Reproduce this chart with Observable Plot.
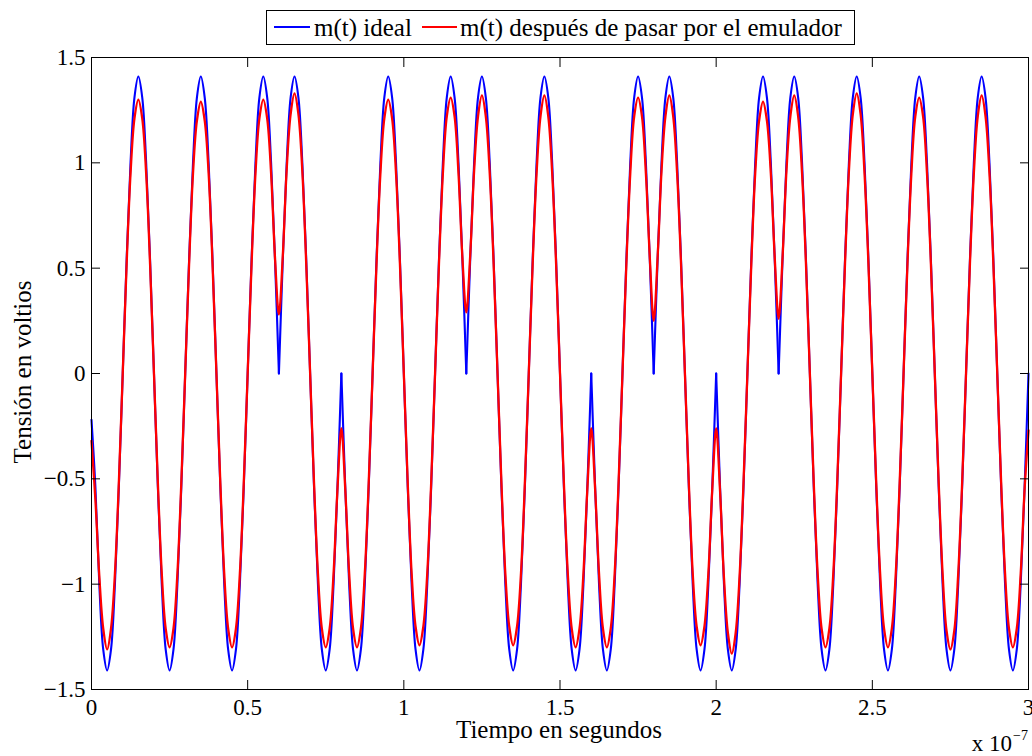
<!DOCTYPE html>
<html>
<head>
<meta charset="utf-8">
<script src="https://cdn.jsdelivr.net/npm/d3@7"></script>
<script src="https://cdn.jsdelivr.net/npm/@observablehq/plot@0.6"></script>
<style>
  html, body { margin: 0; padding: 0; background: #ffffff; }
  #chart { width: 1032px; height: 756px; }
</style>
</head>
<body>
<div id="chart"></div>
<script>
// ---- data ----
const sampleStep = 1.25e-9; // seconds between consecutive samples
const seriesNames = ["m(t) ideal", "m(t) después de pasar por el emulador"];
const seriesColors = ["#0000ff", "#ff0000"];
const xTicks = [0, 0.5e-7, 1e-7, 1.5e-7, 2e-7, 2.5e-7, 3e-7];
const xTickLabels = ["0", "0.5", "1", "1.5", "2", "2.5", "3"];
const yTicks = [-1.5, -1, -0.5, 0, 0.5, 1, 1.5];
const yTickLabels = ["\u22121.5", "\u22121", "\u22120.5", "0", "0.5", "1", "1.5"];
const xLabel = "Tiempo en segundos";
const yLabel = "Tensión en voltios";
const xMultiplier = "x 10";
const xExponent = "\u22127";

// m(t) ideal (V), one row per 20 ns symbol
const ideal = [
  -0.22, -0.54, -1.00, -1.31, -1.41, -1.31, -1.00, -0.54, 0, 0.54, 1.00, 1.31, 1.41, 1.31, 1.00, 0.54,
  0, -0.54, -1.00, -1.31, -1.41, -1.31, -1.00, -0.54, 0, 0.54, 1.00, 1.31, 1.41, 1.31, 1.00, 0.54,
  0, -0.54, -1.00, -1.31, -1.41, -1.31, -1.00, -0.54, 0, 0.54, 1.00, 1.31, 1.41, 1.31, 1.00, 0.54,
  0, 0.54, 1.00, 1.31, 1.41, 1.31, 1.00, 0.54, 0, -0.54, -1.00, -1.31, -1.41, -1.31, -1.00, -0.54,
  0, -0.54, -1.00, -1.31, -1.41, -1.31, -1.00, -0.54, 0, 0.54, 1.00, 1.31, 1.41, 1.31, 1.00, 0.54,
  0, -0.54, -1.00, -1.31, -1.41, -1.31, -1.00, -0.54, 0, 0.54, 1.00, 1.31, 1.41, 1.31, 1.00, 0.54,
  0, 0.54, 1.00, 1.31, 1.41, 1.31, 1.00, 0.54, 0, -0.54, -1.00, -1.31, -1.41, -1.31, -1.00, -0.54,
  0, 0.54, 1.00, 1.31, 1.41, 1.31, 1.00, 0.54, 0, -0.54, -1.00, -1.31, -1.41, -1.31, -1.00, -0.54,
  0, -0.54, -1.00, -1.31, -1.41, -1.31, -1.00, -0.54, 0, 0.54, 1.00, 1.31, 1.41, 1.31, 1.00, 0.54,
  0, 0.54, 1.00, 1.31, 1.41, 1.31, 1.00, 0.54, 0, -0.54, -1.00, -1.31, -1.41, -1.31, -1.00, -0.54,
  0, -0.54, -1.00, -1.31, -1.41, -1.31, -1.00, -0.54, 0, 0.54, 1.00, 1.31, 1.41, 1.31, 1.00, 0.54,
  0, 0.54, 1.00, 1.31, 1.41, 1.31, 1.00, 0.54, 0, -0.54, -1.00, -1.31, -1.41, -1.31, -1.00, -0.54,
  0, 0.54, 1.00, 1.31, 1.41, 1.31, 1.00, 0.54, 0, -0.54, -1.00, -1.31, -1.41, -1.31, -1.00, -0.54,
  0, 0.54, 1.00, 1.31, 1.41, 1.31, 1.00, 0.54, 0, -0.54, -1.00, -1.31, -1.41, -1.31, -1.00, -0.54,
  0, 0.54, 1.00, 1.31, 1.41, 1.31, 1.00, 0.54, 0, -0.54, -1.00, -1.31, -1.41, -1.31, -1.00, -0.54,
  0
];

// m(t) after the emulator (V)
const emulated = [
  -0.32, -0.60, -0.96, -1.21, -1.31, -1.21, -0.95, -0.52, 0, 0.52, 0.95, 1.21, 1.30, 1.21, 0.95, 0.52,
  0, -0.52, -0.95, -1.21, -1.30, -1.21, -0.95, -0.52, 0, 0.52, 0.95, 1.20, 1.29, 1.20, 0.95, 0.52,
  0, -0.52, -0.95, -1.21, -1.30, -1.21, -0.95, -0.52, 0, 0.52, 0.95, 1.21, 1.30, 1.21, 0.95, 0.55,
  0.28, 0.56, 0.97, 1.23, 1.33, 1.23, 0.96, 0.52, 0, -0.52, -0.95, -1.21, -1.30, -1.21, -0.95, -0.55,
  -0.26, -0.55, -0.95, -1.21, -1.30, -1.21, -0.95, -0.52, 0, 0.52, 0.95, 1.21, 1.30, 1.21, 0.95, 0.52,
  0, -0.52, -0.95, -1.20, -1.29, -1.20, -0.95, -0.52, 0, 0.52, 0.95, 1.22, 1.31, 1.22, 0.95, 0.55,
  0.29, 0.56, 0.96, 1.22, 1.32, 1.22, 0.95, 0.52, 0, -0.52, -0.95, -1.20, -1.29, -1.20, -0.95, -0.52,
  0, 0.52, 0.95, 1.22, 1.32, 1.22, 0.95, 0.52, 0, -0.52, -0.95, -1.21, -1.30, -1.21, -0.95, -0.55,
  -0.26, -0.55, -0.95, -1.21, -1.30, -1.21, -0.95, -0.52, 0, 0.52, 0.95, 1.22, 1.31, 1.22, 0.95, 0.55,
  0.25, 0.55, 0.96, 1.22, 1.32, 1.22, 0.95, 0.52, 0, -0.52, -0.95, -1.20, -1.29, -1.20, -0.95, -0.55,
  -0.26, -0.56, -0.97, -1.23, -1.33, -1.23, -0.96, -0.52, 0, 0.52, 0.95, 1.20, 1.29, 1.20, 0.95, 0.55,
  0.26, 0.55, 0.96, 1.22, 1.32, 1.22, 0.95, 0.52, 0, -0.52, -0.95, -1.21, -1.30, -1.21, -0.95, -0.52,
  0, 0.52, 0.96, 1.23, 1.33, 1.23, 0.95, 0.52, 0, -0.52, -0.95, -1.21, -1.30, -1.21, -0.95, -0.52,
  0, 0.52, 0.95, 1.22, 1.31, 1.22, 0.95, 0.52, 0, -0.52, -0.95, -1.22, -1.31, -1.22, -0.95, -0.52,
  0, 0.52, 0.95, 1.22, 1.32, 1.22, 0.95, 0.52, 0, -0.52, -0.95, -1.21, -1.30, -1.21, -0.95, -0.55,
  -0.27
];

// ---- build tables ----
// ideal: split into pieces at phase-flip cusps so the V corners stay sharp
const idealRows = [];
let piece = 0;
ideal.forEach((v, i) => {
  const t = i * sampleStep;
  idealRows.push({ t, v, piece });
  if (i > 0 && i < ideal.length - 1 && v === 0 &&
      Math.sign(ideal[i - 1]) === Math.sign(ideal[i + 1])) {
    piece += 1;
    idealRows.push({ t, v, piece });
  }
});
const emulatedRows = emulated.map((v, i) => ({ t: i * sampleStep, v }));

const FONT = "'Liberation Serif', 'Times New Roman', serif";

const plot = Plot.plot({
  width: 1032,
  height: 756,
  marginLeft: 91,
  marginRight: 4,
  marginTop: 57,
  marginBottom: 67,
  style: { fontFamily: FONT, fontSize: "23px", color: "#000", background: "#fff", overflow: "visible" },
  x: { domain: [0, 3e-7], axis: null },
  y: { domain: [-1.5, 1.5], axis: null },
  marks: [
    Plot.line(idealRows, { x: "t", y: "v", z: "piece", stroke: seriesColors[0], strokeWidth: 2.1, curve: "catmull-rom" }),
    Plot.line(emulatedRows, { x: "t", y: "v", stroke: seriesColors[1], strokeWidth: 2.3, curve: "catmull-rom" }),
    // inward ticks on all four sides
    Plot.axisX({ anchor: "bottom", ticks: xTicks, tickSize: 9, insetBottom: 9, fill: "none", label: null, stroke: "#000" }),
    Plot.axisX({ anchor: "top", ticks: xTicks, tickSize: 9, insetTop: 9, fill: "none", label: null, stroke: "#000" }),
    Plot.axisY({ anchor: "left", ticks: yTicks, tickSize: 9, insetLeft: 9, fill: "none", label: null, stroke: "#000" }),
    Plot.axisY({ anchor: "right", ticks: yTicks, tickSize: 9, insetRight: 9, fill: "none", label: null, stroke: "#000" }),
    // tick labels
    Plot.axisX({ anchor: "bottom", ticks: xTicks, tickSize: 0, tickPadding: 9, label: null, fontSize: 23,
      tickFormat: d => xTickLabels[xTicks.indexOf(d)] }),
    Plot.axisY({ anchor: "left", ticks: yTicks, tickSize: 0, tickPadding: 6, label: null, fontSize: 23,
      tickFormat: d => yTickLabels[yTicks.indexOf(d)] }),
    Plot.frame({ stroke: "#000", strokeWidth: 1 })
  ]
});

document.getElementById("chart").appendChild(plot);

// ---- annotations: axis titles, multiplier, legend ----
const svg = d3.select(plot);
const g = svg.append("g").attr("font-family", FONT).attr("fill", "#000");

g.append("text").attr("x", 559).attr("y", 738).attr("text-anchor", "middle")
  .attr("font-size", 25).text(xLabel);

g.append("text").attr("transform", "translate(31,372) rotate(-90)").attr("text-anchor", "middle")
  .attr("font-size", 25).text(yLabel);

g.append("text").attr("x", 1012).attr("y", 751).attr("text-anchor", "end")
  .attr("font-size", 23).text(xMultiplier);
g.append("text").attr("x", 1013).attr("y", 740).attr("text-anchor", "start")
  .attr("font-size", 14).text(xExponent);

const lg = svg.append("g").attr("font-family", FONT);
lg.append("rect").attr("x", 266.5).attr("y", 10.5).attr("width", 588).attr("height", 34)
  .attr("fill", "#fff").attr("stroke", "#000").attr("stroke-width", 1);
const legendItems = [
  { x0: 274, x1: 310, tx: 314 },
  { x0: 422, x1: 457, tx: 460 }
];
legendItems.forEach((it, i) => {
  lg.append("line").attr("x1", it.x0).attr("x2", it.x1).attr("y1", 27).attr("y2", 27)
    .attr("stroke", seriesColors[i]).attr("stroke-width", 2);
  lg.append("text").attr("x", it.tx).attr("y", 35.5).attr("font-size", 25)
    .attr("text-anchor", "start").attr("fill", "#000").text(seriesNames[i]);
});
</script>
</body>
</html>
